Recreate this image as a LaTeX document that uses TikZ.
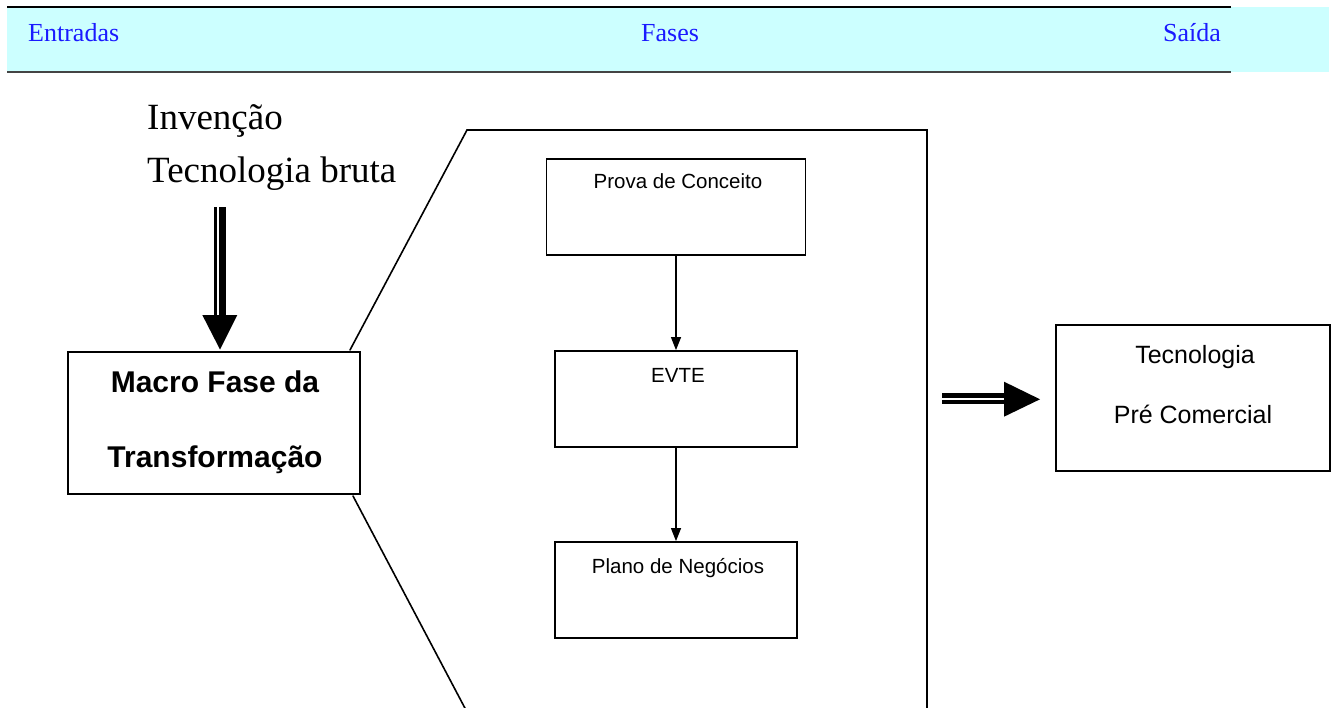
\documentclass[tikz,border=0pt]{standalone}
\usepackage{fontspec}
\setmainfont{Liberation Serif}
\setsansfont{Liberation Sans}
\usetikzlibrary{arrows.meta}
\definecolor{bannerfill}{HTML}{CCFFFF}
\definecolor{bannertext}{HTML}{1A1AFF}
\definecolor{rulegrey}{HTML}{444444}
\tikzset{
  box/.style={draw=black, line width=1.8pt, fill=white, inner sep=0pt},
  boxtext/.style={font=\sffamily, inner sep=0pt, anchor=base},
  headtext/.style={text=bannertext, inner sep=0pt, anchor=base west, font=\fontsize{26}{30}\selectfont},
  flow/.style={line width=1.2pt, -{Triangle[length=13pt,width=10pt]}},
  panel/.style={line width=1.6pt, line cap=round, line join=miter},
  fat/.style={fill=black, draw=none}
}
\begin{document}
\begin{tikzpicture}[x={(1pt,0)}, y={(0,-1pt)}]
\useasboundingbox (0,0) rectangle (1337,708);

% title band
\fill[bannerfill] (7,7) rectangle (1329,72);
\draw[line width=1.6pt, black] (7,7) -- (1231,7);
\draw[line width=1.6pt, rulegrey] (7,72) -- (1231,72);
\node[headtext] (entradas) at (28,42) {Entradas};
\node[headtext] (fases) at (641,42) {Fases};
\node[headtext] (saida) at (1163,42) {Saída};

% inputs
\node[inner sep=0pt, anchor=base west, font=\fontsize{37}{40}\selectfont] (invencao) at (147,130) {Invenção};
\node[inner sep=0pt, anchor=base west, font=\fontsize{37}{40}\selectfont] (bruta) at (147,183) {Tecnologia bruta};

% macro phase box
\node[box, minimum width=292pt, minimum height=142pt] (macro) at (214,423) {};
\node[boxtext, font=\sffamily\bfseries\fontsize{30}{34}\selectfont] (macro1) at (215,392) {Macro Fase da};
\node[boxtext, font=\sffamily\bfseries\fontsize{30}{34}\selectfont] (macro2) at (215,467) {Transformação};

% double arrow into the macro phase
\coordinate (dtop) at (219,207);
\fill[black] (214.3,207) rectangle (217.3,316);
\fill[black] (219.3,207) rectangle (225.7,316);
\fill[fat] (202.3,315) -- (237.3,315) -- (220,349.5) -- cycle;

% zoomed panel
\coordinate (pa) at (350,350);
\coordinate (pb) at (467,130);
\coordinate (pc) at (927,130);
\coordinate (pd) at (927,712);
\coordinate (pe) at (353,496);
\coordinate (pf) at (467,712);
\draw[panel] (pa) -- (pb) -- (pc) -- (pd);
\draw[panel] (pe) -- (pf);

% steps inside the panel
\node[box, minimum width=259pt, minimum height=96pt] (prova) at (676,207) {};
\node[boxtext, font=\sffamily\fontsize{20.5}{24}\selectfont] (provat) at (678,189) {Prova de Conceito};
\node[box, minimum width=242pt, minimum height=96pt] (evte) at (676,399) {};
\node[boxtext, font=\sffamily\fontsize{20.5}{24}\selectfont] (evtet) at (678,382) {EVTE};
\node[box, minimum width=242pt, minimum height=96pt] (plano) at (676,590) {};
\node[boxtext, font=\sffamily\fontsize{20.5}{24}\selectfont] (planot) at (678,573) {Plano de Negócios};
\draw[flow] (prova.south) -- (evte.north);
\draw[flow] (evte.south) -- (plano.north);

% output
\node[box, minimum width=274pt, minimum height=146pt] (saidabox) at (1193,398) {};
\node[boxtext, font=\sffamily\fontsize{25}{30}\selectfont] (tec1) at (1195,363) {Tecnologia};
\node[boxtext, font=\sffamily\fontsize{25}{30}\selectfont] (tec2) at (1193,423) {Pré Comercial};

% double arrow to the output
\fill[black] (941.7,393.3) rectangle (1005,397.7);
\fill[black] (941.7,400) rectangle (1005,403.7);
\fill[fat] (1004,381.7) -- (1004,416.7) -- (1040,399.3) -- cycle;
\end{tikzpicture}
\end{document}
